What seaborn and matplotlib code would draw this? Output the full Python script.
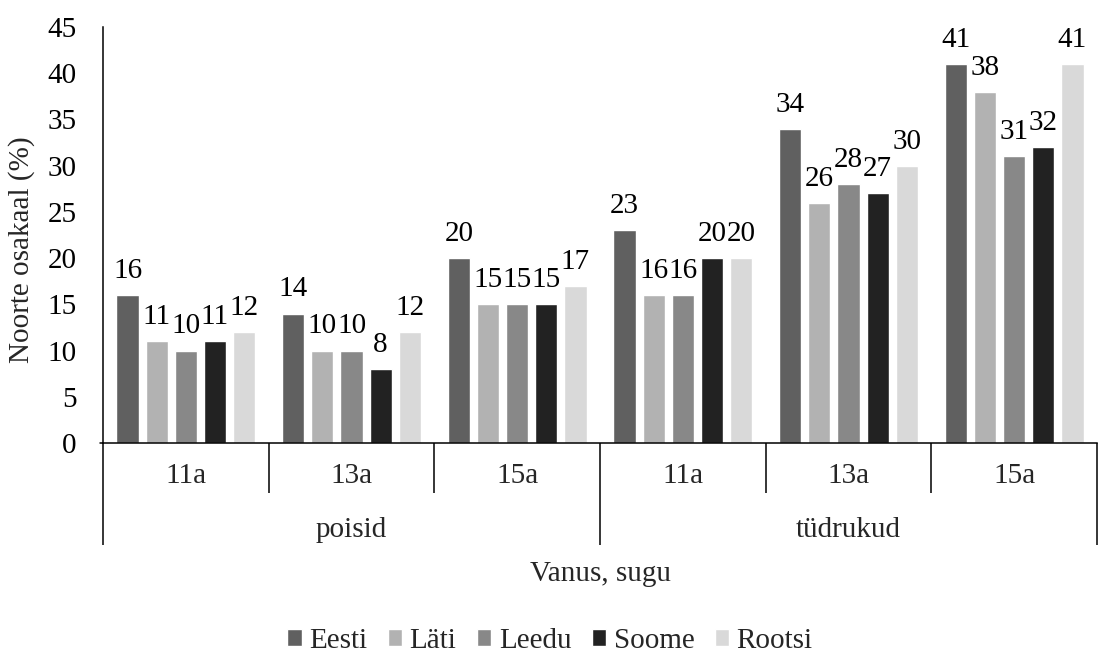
import matplotlib
matplotlib.use("Agg")
import matplotlib.pyplot as plt
import seaborn as sns
import pandas as pd

# Data
ages = ["11a", "13a", "15a", "11a", "13a", "15a"]
genders = ["poisid", "tüdrukud"]
countries = ["Eesti", "Läti", "Leedu", "Soome", "Rootsi"]
eesti = [16, 14, 20, 23, 34, 41]
lati = [11, 10, 15, 16, 26, 38]
leedu = [10, 10, 15, 16, 28, 31]
soome = [11, 8, 15, 20, 27, 32]
rootsi = [12, 12, 17, 20, 30, 41]
colors = ["#606060", "#b2b2b2", "#888888", "#222222", "#d9d9d9"]

FS = 21

series = dict(zip(countries, [eesti, lati, leedu, soome, rootsi]))
groups = [f"{g}-{a}" for g in genders for a in ages[:3]]
rows = []
for c in countries:
    for grp, v in zip(groups, series[c]):
        rows.append({"grupp": grp, "riik": c, "osakaal": v})
df = pd.DataFrame(rows)

sns.set_theme(style="white")
plt.rcParams["font.family"] = ["Liberation Serif", "DejaVu Serif"]
plt.rcParams["font.size"] = FS

fig = plt.figure(figsize=(10.99, 6.55), dpi=100)
ax = fig.add_axes([103 / 1099, 1 - 443 / 655, 994 / 1099, 416 / 655])

sns.barplot(data=df, x="grupp", y="osakaal", hue="riik", order=groups,
            hue_order=countries, palette=colors, width=0.88, gap=0.24,
            saturation=1, errorbar=None, ax=ax, legend=True)

for cont in ax.containers:
    ax.bar_label(cont, padding=8, fontsize=FS, color="black")

ax.set_ylim(0, 45)
ax.set_xlim(-0.5, 5.5)
ax.set_yticks(range(0, 46, 5))
ax.tick_params(axis="y", length=0, pad=19, labelsize=FS, colors="black")
ax.set_xticks([])
ax.set_xlabel("")
ax.set_ylabel("")

for s in ["top", "right"]:
    ax.spines[s].set_visible(False)
for s in ["left", "bottom"]:
    ax.spines[s].set_color("black")
    ax.spines[s].set_linewidth(1.1)

# Multi-level category axis
tr = ax.get_xaxis_transform()
minor_len = -(493 - 443) / 416
major_len = -(545 - 443) / 416
for i in range(7):
    x = i - 0.5
    y_end = major_len if i in (0, 3, 6) else minor_len
    ax.plot([x, x], [0, y_end], transform=tr, color="black", lw=1.1,
            clip_on=False, solid_capstyle="butt")
for i, a in enumerate(ages):
    ax.text(i, -(476 - 443) / 416, a, transform=tr, ha="center", va="center",
            fontsize=FS)
for j, g in enumerate(genders):
    ax.text(3 * j + 1, -(530 - 443) / 416, g, transform=tr, ha="center",
            va="center", fontsize=FS)
ax.plot([-0.5 - 0.02, -0.5], [0, 0], transform=tr, color="black", lw=1.1,
        clip_on=False)

fig.text(22 / 1099, 1 - 250 / 655, "Noorte osakaal (%)", rotation=90,
         ha="center", va="center", fontsize=FS)
fig.text(600 / 1099, 1 - 574 / 655, "Vanus, sugu", ha="center", va="center",
         fontsize=FS)

handles, labels = ax.get_legend_handles_labels()
ax.get_legend().remove()
fig.legend(handles, labels, loc="center", ncol=5,
           bbox_to_anchor=(550 / 1099, 1 - 641 / 655), frameon=False,
           fontsize=FS, handlelength=0.5, handleheight=0.5,
           handletextpad=0.25, columnspacing=0.7, borderpad=0)

fig.savefig("out.png", dpi=100)
